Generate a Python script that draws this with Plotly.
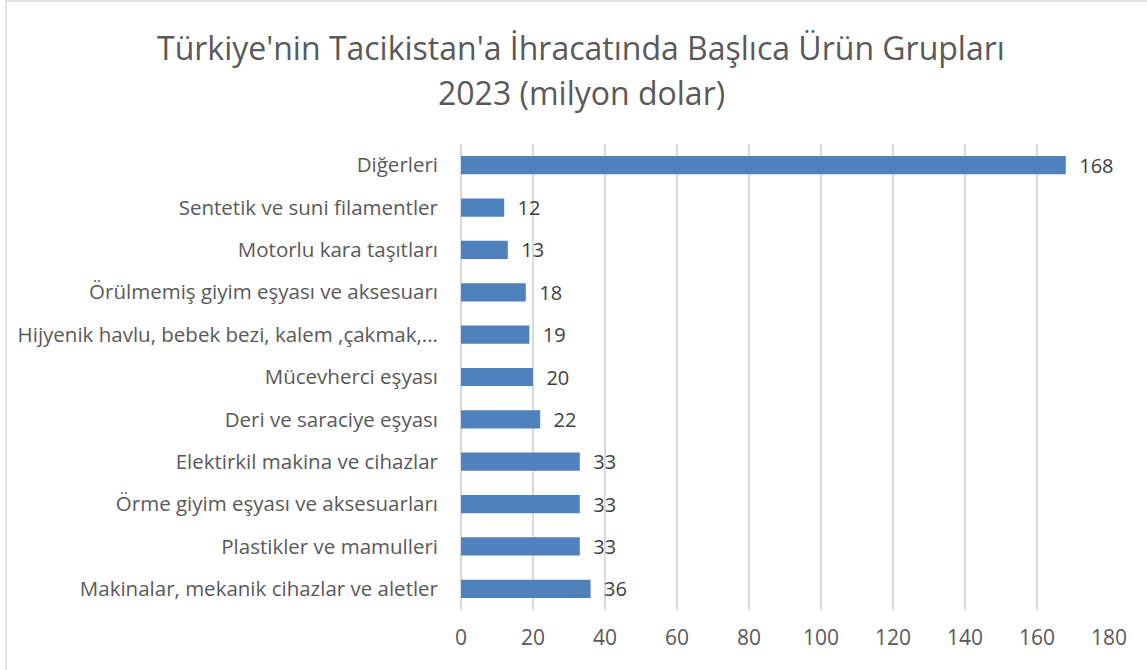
import plotly.graph_objects as go

categories = [
    "Makinalar, mekanik cihazlar ve aletler",
    "Plastikler ve mamulleri",
    "Örme giyim eşyası ve aksesuarları",
    "Elektirkil makina ve cihazlar",
    "Deri ve saraciye eşyası",
    "Mücevherci eşyası",
    "Hijyenik havlu, bebek bezi, kalem ,çakmak,...",
    "Örülmemiş giyim eşyası ve aksesuarı",
    "Motorlu kara taşıtları",
    "Sentetik ve suni filamentler",
    "Diğerleri",
]
values = [36, 33, 33, 33, 22, 20, 19, 18, 13, 12, 168]
tick_vals = [0, 20, 40, 60, 80, 100, 120, 140, 160, 180]
title_lines = ["Türkiye'nin Tacikistan'a İhracatında Başlıca Ürün Grupları", "2023 (milyon dolar)"]

W, H = 1147, 670
L, R, T, B = 461, 38, 144, 60
pw, ph = W - L - R, H - T - B

FONT = "'Open Sans', sans-serif"
TXT = "#595959"
PAD = "\u00a0\u00a0"

fig = go.Figure(go.Bar(
    x=values, y=categories, orientation="h",
    marker=dict(color="#4F81BD", line=dict(color="#4F81BD", width=0)),
    width=0.43,
    text=[PAD + str(v) for v in values], textposition="outside",
    constraintext="none",
    textfont=dict(size=20, color="#404040", family=FONT),
    cliponaxis=False,
))

annotations = []
for i, (line, yp) in enumerate(zip(title_lines, [47, 93])):
    annotations.append(dict(
        text=line, xref="paper", yref="paper",
        x=(581 - L) / pw, y=1 + (T - yp) / ph, xanchor="center", yanchor="middle",
        showarrow=False, font=dict(size=32, color=TXT, family=FONT),
    ))

fig.update_layout(
    width=W, height=H,
    margin=dict(l=L, r=R, t=T, b=B, autoexpand=False),
    paper_bgcolor="white", plot_bgcolor="white",
    annotations=annotations,
    xaxis=dict(
        range=[0, 180], tickvals=tick_vals, showgrid=True, gridcolor="#D9D9D9", gridwidth=1.5,
        zeroline=True, zerolinecolor="#D9D9D9", zerolinewidth=1.5,
        showline=False, ticks="", tickfont=dict(size=21, color=TXT, family=FONT),
        ticklabelstandoff=13, automargin=False,
    ),
    yaxis=dict(
        categoryorder="array", categoryarray=categories, range=[-0.5, 10.5],
        showgrid=False, showline=False, ticks="", ticklabelstandoff=22,
        tickfont=dict(size=20.5, color=TXT, family=FONT), automargin=False,
    ),
    showlegend=False,
    shapes=[dict(
        type="rect", xref="paper", yref="paper",
        x0=(6 - L) / pw, x1=(W + 5 - L) / pw,
        y0=-(H + 5 - T - ph) / ph, y1=1 + (T - 1) / ph,
        line=dict(color="#D9D9D9", width=1.5), fillcolor="rgba(0,0,0,0)", layer="below",
    )],
)

fig.write_html("out.html", config={"displayModeBar": False},
               post_script="document.body.style.margin='0';")
